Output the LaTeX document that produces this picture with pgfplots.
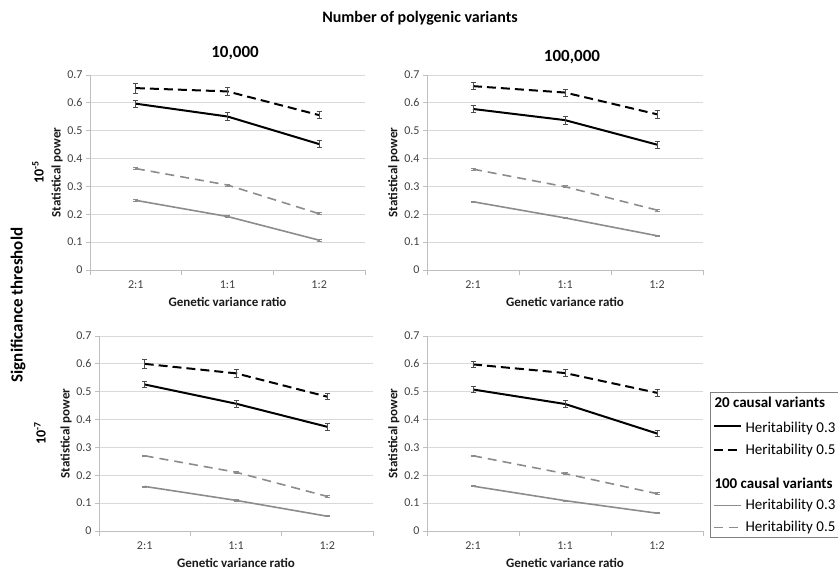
\documentclass[border=0pt]{standalone}
\usepackage{pgfplots}
\pgfplotsset{compat=1.18}
\usepackage{pgfplotstable}
\usepackage{fontspec}
\setmainfont{Carlito}
\newcommand\fs[1]{\fontsize{#1}{#1}\selectfont}
\definecolor{ser}{HTML}{8C8C8C}
\definecolor{gridc}{HTML}{D9D9D9}
\definecolor{axc}{HTML}{BFBFBF}
\definecolor{tlab}{HTML}{404040}

% columns: x, solid black (20 causal, h2=0.3), dashed black (20, 0.5), solid gray (100, 0.3), dashed gray (100, 0.5)
\pgfplotstableread{
x   sb    sbe    db    dbe    sg    sge    dg    dge
0.5 0.597 0.012  0.653 0.018  0.250 0.003  0.364 0.004
1.5 0.551 0.014  0.641 0.014  0.192 0.003  0.305 0.004
2.5 0.452 0.012  0.556 0.012  0.107 0.003  0.202 0.004
}\tabTL
\pgfplotstableread{
x   sb    sbe    db    dbe    sg    sge    dg    dge
0.5 0.578 0.012  0.660 0.012  0.245 0.003  0.362 0.004
1.5 0.538 0.014  0.637 0.013  0.187 0.003  0.299 0.004
2.5 0.450 0.012  0.559 0.013  0.123 0.003  0.215 0.004
}\tabTR
\pgfplotstableread{
x   sb    sbe    db    dbe    sg    sge    dg    dge
0.5 0.526 0.012  0.600 0.016  0.160 0.002  0.270 0.003
1.5 0.457 0.012  0.566 0.014  0.110 0.002  0.211 0.003
2.5 0.374 0.011  0.482 0.011  0.053 0.002  0.124 0.003
}\tabBL
\pgfplotstableread{
x   sb    sbe    db    dbe    sg    sge    dg    dge
0.5 0.508 0.010  0.598 0.011  0.161 0.002  0.270 0.003
1.5 0.456 0.012  0.567 0.012  0.109 0.002  0.206 0.003
2.5 0.350 0.011  0.496 0.012  0.064 0.002  0.134 0.003
}\tabBR

\pgfplotsset{
  panel/.style={
    scale only axis, width=#1, height=195pt, anchor=south west,
    xmin=0, xmax=3, ymin=0, ymax=0.7,
    axis x line=bottom, axis y line=left,
    axis line style={-, draw=axc, line width=0.8pt},
    xtick={0.5,1.5,2.5}, xticklabels={2:1,1:1,1:2},
    minor xtick={0,1,2,3},
    major x tick style={draw=none},
    minor x tick style={draw=axc, line width=0.8pt},
    ytick={0,0.1,0.2,0.3,0.4,0.5,0.6,0.7},
    yticklabels={0,0.1,0.2,0.3,0.4,0.5,0.6,0.7},
    major y tick style={draw=axc, line width=0.8pt},
    ymajorgrids, grid style={draw=gridc, line width=0.8pt},
    tick align=outside, major tick length=4pt, minor tick length=5pt,
    ticklabel style={font=\fs{12}, text=tlab},
    xticklabel style={yshift=-3pt},
    xlabel={Genetic variance ratio}, ylabel={Statistical power},
    every axis x label/.style={at={(axis description cs:0.5,-0.165)}, anchor=center,
      font=\bfseries\fs{13}, text=black!90},
    every axis y label/.style={at={(axis description cs:-0.12,0.5)}, anchor=center, rotate=90,
      font=\bfseries\fs{13}, text=black!90},
    clip=false,
    legend image code/.code={\draw[##1] (0pt,0pt) -- (27pt,0pt);},
  },
  ebar/.style={error bars/.cd, y dir=both, y explicit,
    error bar style={line width=0.7pt, draw=#1},
    error mark options={rotate=90, mark size=2.5pt, line width=0.7pt, draw=#1},
    /pgfplots/.cd},
  sbs/.style={black, line width=2pt, no marks},
  dbs/.style={black, line width=2pt, no marks, dash pattern=on 9pt off 5pt},
  sgs/.style={ser, line width=1.6pt, no marks},
  dgs/.style={ser, line width=1.6pt, no marks, dash pattern=on 9pt off 6pt},
}

\newcommand\panelplots[1]{%
  \addplot[forget plot, sgs, ebar=ser] table[x=x, y=sg, y error=sge] {#1};
  \addplot[forget plot, dgs, ebar=ser] table[x=x, y=dg, y error=dge] {#1};
  \addplot[forget plot, sbs, ebar=black!70] table[x=x, y=sb, y error=sbe] {#1};
  \addplot[forget plot, dbs, ebar=black!70] table[x=x, y=db, y error=dbe] {#1};
}

\begin{document}
\begin{tikzpicture}
\path[use as bounding box] (0pt,0pt) rectangle (838pt,570pt);

\begin{axis}[panel=275pt, at={(90pt,300pt)}]
\panelplots{\tabTL}
\end{axis}

\begin{axis}[panel=276pt, at={(427pt,300pt)}]
\panelplots{\tabTR}
\end{axis}

\begin{axis}[panel=274pt, at={(99pt,39pt)}]
\panelplots{\tabBL}
\end{axis}

\begin{axis}[panel=276pt, at={(427pt,39pt)},
  legend style={at={(axis description cs:1.025,0.713)}, anchor=north west,
    draw=black!50, line width=1.2pt, fill=white, font=\fs{15},
    inner xsep=2pt, inner ysep=2pt, row sep=6pt, column sep=2pt,
    nodes={inner sep=2pt}},
  legend cell align=left]
\panelplots{\tabBR}
\addlegendimage{empty legend}
\addlegendentry{\hspace*{-31pt}\textbf{20 causal variants}}
\addlegendimage{sbs}
\addlegendentry{\rule{0pt}{14pt}Heritability 0.3}
\addlegendimage{dbs}
\addlegendentry{Heritability 0.5}
\addlegendimage{empty legend}
\addlegendentry{\hspace*{-31pt}\rule{0pt}{22pt}\textbf{100 causal variants}}
\addlegendimage{sgs}
\addlegendentry{Heritability 0.3}
\addlegendimage{dgs}
\addlegendentry{Heritability 0.5}
\end{axis}

\node[font=\bfseries\fs{16}] at (420pt,552pt) {Number of polygenic variants};
\node[font=\bfseries\fs{17}] at (235pt,517pt) {10,000};
\node[font=\bfseries\fs{17}] at (572pt,513pt) {100,000};
\node[font=\bfseries\fs{14}, rotate=90] at (38pt,398pt) {10\textsuperscript{-5}};
\node[font=\bfseries\fs{14}, rotate=90] at (40pt,137pt) {10\textsuperscript{-7}};
\node[font=\bfseries\fs{17}, rotate=90] at (18pt,265pt) {Significance threshold};
\end{tikzpicture}
\end{document}
